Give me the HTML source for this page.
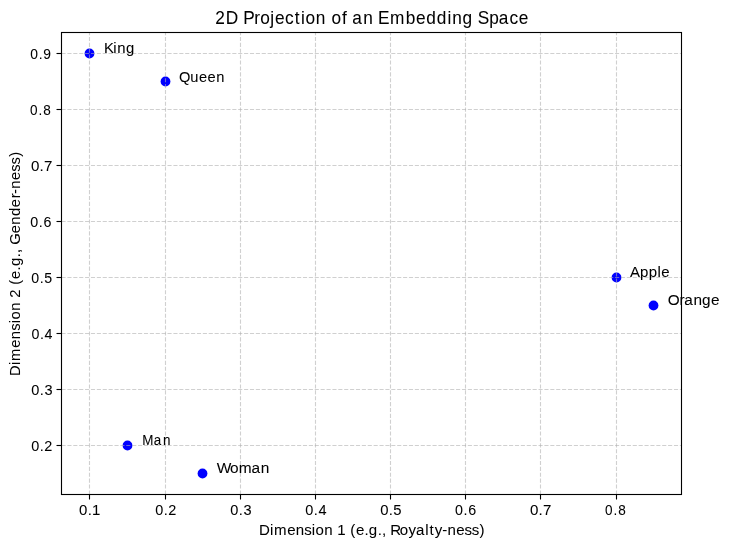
<!DOCTYPE html>
<html><head><meta charset="utf-8"><title>2D Projection of an Embedding Space</title>
<style>
html,body{margin:0;padding:0;background:#fff;width:729px;height:547px;overflow:hidden;}
svg{display:block;will-change:transform;}
text{font-family:"Liberation Sans",sans-serif;fill:#000;white-space:pre;stroke:#000;stroke-width:0.05px;}
</style></head><body>
<svg width="729" height="547" viewBox="0 0 729 547">
<rect width="729" height="547" fill="#fff"/>
<g fill="#0000ff"><circle cx="89.5" cy="53.5" r="4.9"/><circle cx="165.5" cy="81.5" r="4.9"/><circle cx="127.5" cy="445.5" r="4.9"/><circle cx="202.5" cy="473.5" r="4.9"/><circle cx="616.5" cy="277.5" r="4.9"/><circle cx="653.5" cy="305.5" r="4.9"/></g>
<g stroke="#b0b0b0" stroke-opacity="0.6" stroke-width="1.111" stroke-dasharray="4.111 1.778" fill="none"><line x1="89.5" y1="494.5" x2="89.5" y2="32.5"/><line x1="165.5" y1="494.5" x2="165.5" y2="32.5"/><line x1="240.5" y1="494.5" x2="240.5" y2="32.5"/><line x1="315.5" y1="494.5" x2="315.5" y2="32.5"/><line x1="390.5" y1="494.5" x2="390.5" y2="32.5"/><line x1="465.5" y1="494.5" x2="465.5" y2="32.5"/><line x1="540.5" y1="494.5" x2="540.5" y2="32.5"/><line x1="616.5" y1="494.5" x2="616.5" y2="32.5"/><line x1="61.5" y1="53.5" x2="681.5" y2="53.5"/><line x1="61.5" y1="109.5" x2="681.5" y2="109.5"/><line x1="61.5" y1="165.5" x2="681.5" y2="165.5"/><line x1="61.5" y1="221.5" x2="681.5" y2="221.5"/><line x1="61.5" y1="277.5" x2="681.5" y2="277.5"/><line x1="61.5" y1="333.5" x2="681.5" y2="333.5"/><line x1="61.5" y1="389.5" x2="681.5" y2="389.5"/><line x1="61.5" y1="445.5" x2="681.5" y2="445.5"/></g>
<rect x="61.5" y="32.5" width="620" height="462" fill="none" stroke="#000" stroke-width="1.111"/>
<g stroke="#000" stroke-width="1.111"><line x1="89.5" y1="494.5" x2="89.5" y2="499.5"/><line x1="165.5" y1="494.5" x2="165.5" y2="499.5"/><line x1="240.5" y1="494.5" x2="240.5" y2="499.5"/><line x1="315.5" y1="494.5" x2="315.5" y2="499.5"/><line x1="390.5" y1="494.5" x2="390.5" y2="499.5"/><line x1="465.5" y1="494.5" x2="465.5" y2="499.5"/><line x1="540.5" y1="494.5" x2="540.5" y2="499.5"/><line x1="616.5" y1="494.5" x2="616.5" y2="499.5"/><line x1="56.5" y1="53.5" x2="61.5" y2="53.5"/><line x1="56.5" y1="109.5" x2="61.5" y2="109.5"/><line x1="56.5" y1="165.5" x2="61.5" y2="165.5"/><line x1="56.5" y1="221.5" x2="61.5" y2="221.5"/><line x1="56.5" y1="277.5" x2="61.5" y2="277.5"/><line x1="56.5" y1="333.5" x2="61.5" y2="333.5"/><line x1="56.5" y1="389.5" x2="61.5" y2="389.5"/><line x1="56.5" y1="445.5" x2="61.5" y2="445.5"/></g>
<text transform="translate(78.71 514.56) scale(1.0184 1)" x="0.25 8.79 13.17" y="0" font-size="14.7">0.1</text><text transform="translate(154.77 514.56) scale(1.0030 1)" x="0.4 9 13.41" y="0" font-size="14.4">0.2</text><text transform="translate(229.83 514.56) scale(1.0549 1)" x="0.35 8.54 12.91" y="0" font-size="13.8">0.3</text><text transform="translate(304.83 514.56) scale(0.9884 1)" x="0.38 9.12 13.77" y="0" font-size="14.7">0.4</text><text transform="translate(379.88 514.56) scale(1.0330 1)" x="0.27 8.68 13.03" y="0" font-size="14.4">0.5</text><text transform="translate(454.52 514.56) scale(1.0148 1)" x="0.43 8.91 13.48" y="0" font-size="14.1">0.6</text><text transform="translate(529.68 514.56) scale(1.0284 1)" x="0.21 8.68 13.05" y="0" font-size="14.7">0.7</text><text transform="translate(604.32 514.56) scale(0.9230 1)" x="0.7 9.91 15.04" y="0" font-size="14.7">0.8</text>
<text transform="translate(29.56 58.58) scale(0.9617 1)" x="0.59 9.47 14.31" y="0" font-size="14.4">0.9</text><text transform="translate(29.36 114.58) scale(0.9230 1)" x="0.7 9.91 15.04" y="0" font-size="14.7">0.8</text><text transform="translate(30.68 170.58) scale(1.0284 1)" x="0.21 8.68 13.05" y="0" font-size="14.7">0.7</text><text transform="translate(29.81 226.58) scale(1.0148 1)" x="0.43 8.91 13.48" y="0" font-size="14.1">0.6</text><text transform="translate(30.68 282.88) scale(0.9633 1)" x="0.5 9.41 14.18" y="0" font-size="14.7">0.5</text><text transform="translate(30.93 338.58) scale(0.9886 1)" x="0.46 9.16 13.85" y="0" font-size="14.4">0.4</text><text transform="translate(30.78 394.58) scale(1.0549 1)" x="0.35 8.54 12.91" y="0" font-size="13.8">0.3</text><text transform="translate(30.78 450.58) scale(0.9825 1)" x="0.41 9.18 13.69" y="0" font-size="14.7">0.2</text>
<text transform="translate(103.99 52.58) scale(1.0565 1)" x="-0.11 8.88 12.53 20.76" y="0" font-size="14.1">King</text>
<text transform="translate(179.14 81.58) scale(0.9960 1)" x="-0.23 11.27 20.02 28.6 37.3" y="0" font-size="14.7">Queen</text>
<text transform="translate(141.77 444.58) scale(0.9530 1)" x="0.42 12.58 22.21" y="0" font-size="14.1">Man</text>
<text transform="translate(217.07 472.58) scale(1.0972 1)" x="-0.4 11.77 19.88 31.34 39.74" y="0" font-size="14.1">Woman</text>
<text transform="translate(630.2 276.58) scale(1.0199 1)" x="-0.25 9.62 18.26 26.84 30.49" y="0" font-size="14.7">Apple</text>
<text transform="translate(668.13 304.58) scale(1.0448 1)" x="-0.48 10.98 15.38 24.2 32.53 40.93" y="0" font-size="14.7">Orange</text>
<text transform="translate(214.97 23.5) scale(0.9592 1)" x="0.29 11.25 24.37 29.41 40.99 47.12 57.68 62.6 72.96 83.28 89.63 94.34 105.17 115.62 121.44 132.51 137.83 143.01 154.5 164.94 169.88 182.41 198.91 209.66 220.35 231.35 242.38 247.31 258.15 268.75 273.87 285.88 295.93 306.96 316.79" y="0" font-size="18">2D Projection of an Embedding Space</text>
<text transform="translate(258.97 534.61) scale(1.0248 1)" x="-0.08 10.68 14.7 27.49 35.94 44.24 51.6 55.17 63.62 71.97 76.41 84.89 89.01 94.58 102.91 107.24 115.81 119.98 124.31 128.22 137.47 146.03 153.25 162.25 166.34 171.41 178.84 183.96 192.42 200.59 207.65 215.32" y="0" font-size="14.7">Dimension 1 (e.g., Royalty-ness)</text>
<text transform="translate(19.5 376.08) rotate(-90) scale(1.0251 1)" x="0.04 10.71 14.82 27.56 36.01 44.3 51.61 55.23 63.68 71.94 76.37 84.86 89.04 94.63 102.91 107.28 115.81 119.98 124.26 128.22 139.24 147.7 156.18 164.74 173.52 177.64 182.79 191.24 199.4 206.45 214.09" y="0" font-size="14.4">Dimension 2 (e.g., Gender-ness)</text>
</svg>
</body></html>
